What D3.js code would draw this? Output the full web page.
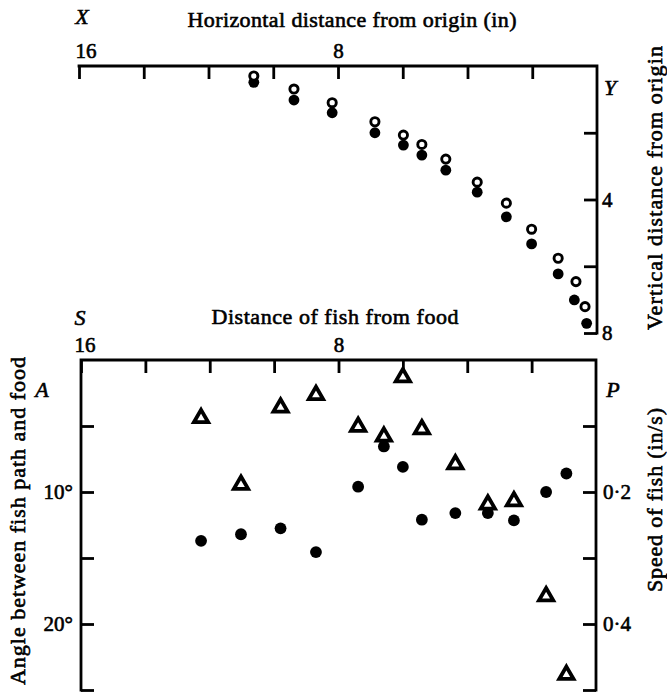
<!DOCTYPE html>
<html>
<head>
<meta charset="utf-8">
<script src="https://cdn.jsdelivr.net/npm/d3@7"></script>
<style>
  html, body { margin: 0; padding: 0; background: #fff; }
  svg { display: block; font-family: "Liberation Serif", Tinos, "Times New Roman", Times, serif; }
  svg text { stroke: #000; stroke-width: 0.6px; paint-order: stroke; }
</style>
</head>
<body>
<svg id="chart" width="667" height="692"></svg>
<script>
// Upper panel: positions (in) of food (open) and fish (filled) relative to origin
const foodX = [10.6, 9.36, 8.18, 6.86, 5.98, 5.41, 4.67, 3.70, 2.80, 2.02, 1.20, 0.65, 0.37];
const foodY = [0.30, 0.69, 1.10, 1.67, 2.07, 2.35, 2.79, 3.48, 4.11, 4.89, 5.76, 6.46, 7.21];
const fishX = [10.6, 9.36, 8.18, 6.86, 5.98, 5.41, 4.67, 3.70, 2.80, 2.02, 1.20, 0.70, 0.32];
const fishY = [0.49, 1.02, 1.40, 2.00, 2.37, 2.67, 3.12, 3.78, 4.52, 5.33, 6.23, 7.01, 7.71];

// Lower panel: distance of fish from food, angle (deg, filled) and speed (in/s, triangles)
const distance = [12.27, 11.03, 9.80, 8.70, 7.39, 6.59, 6.00, 5.41, 4.37, 3.36, 2.55, 1.55, 0.92];
const angle    = [13.7, 13.2, 12.75, 14.55, 9.6, 6.55, 8.1, 12.1, 11.6, 11.6, 12.15, 10.0, 8.6];
const speed    = [0.088, 0.189, 0.072, 0.053, 0.101, 0.116, 0.026, 0.105, 0.158, 0.219, 0.214, 0.358, 0.477];

// Tick values and labelled ticks
const xTicks = [16, 14, 12, 10, 8, 6, 4, 2];
const xTickLabels = [16, 8];
const yTicks = [2, 4, 6, 8];
const yTickLabels = [4, 8];
const angleTicks = [5, 10, 15, 20, 25];
const angleTickLabels = [10, 20];
const speedTicks = [0.1, 0.2, 0.3, 0.4, 0.5];
const speedTickLabels = [0.2, 0.4];

const svg = d3.select("#chart");
const INK = "#000";
const AXIS_W = 2.8;
const TICK = 13;
const SERIF = "'Liberation Serif', Tinos, 'Times New Roman', Times, serif";

// ---------- upper panel ----------
const xTop = d3.scaleLinear().domain([16, 0]).range([79, 597]);
const yTop = d3.scaleLinear().domain([0, 8]).range([66, 333]);

const upper = svg.append("g");

function styleAxis(g) {
  g.attr("font-family", null).attr("font-size", null);
  g.select(".domain").remove();
  g.selectAll(".tick line").attr("stroke", INK).attr("stroke-width", AXIS_W);
  g.selectAll(".tick text").attr("fill", INK).style("font-size", "21px")
    .style("font-family", SERIF);
}

upper.append("g")
  .attr("transform", `translate(0,${yTop(0)})`)
  .call(d3.axisTop(xTop).tickValues(xTicks).tickSize(-TICK).tickPadding(8)
    .tickFormat(d => xTickLabels.includes(d) ? d : ""))
  .call(styleAxis)
  .call(g => g.selectAll(".tick text").filter(d => d === 16).attr("text-anchor", "start").attr("x", -4));

upper.append("g")
  .attr("transform", `translate(${xTop(0)},0)`)
  .call(d3.axisRight(yTop).tickValues(yTicks).tickSize(-TICK).tickPadding(5)
    .tickFormat(d => yTickLabels.includes(d) ? d : ""))
  .call(styleAxis);

// frame lines (top and right)
upper.append("path")
  .attr("d", `M${xTop(16)},${yTop(0)}H${xTop(0)}V${yTop(8)}`)
  .attr("fill", "none").attr("stroke", INK).attr("stroke-width", AXIS_W)
  .attr("stroke-linecap", "square");

upper.append("g").selectAll("circle").data(fishX).join("circle")
  .attr("cx", (d, i) => xTop(d)).attr("cy", (d, i) => yTop(fishY[i]))
  .attr("r", 5.4).attr("fill", INK);

upper.append("g").selectAll("circle").data(foodX).join("circle")
  .attr("cx", (d, i) => xTop(d)).attr("cy", (d, i) => yTop(foodY[i]))
  .attr("r", 4.1).attr("fill", "#fff").attr("stroke", INK).attr("stroke-width", 2.9);

// ---------- lower panel ----------
const xBot = d3.scaleLinear().domain([16, 0]).range([81, 596]);
const yAngle = d3.scaleLinear().domain([0, 25]).range([360, 690]);
const ySpeed = d3.scaleLinear().domain([0, 0.5]).range([360, 690]);

const lower = svg.append("g");

lower.append("g")
  .attr("transform", `translate(0,${yAngle(0)})`)
  .call(d3.axisTop(xBot).tickValues(xTicks).tickSize(-TICK).tickPadding(8)
    .tickFormat(d => xTickLabels.includes(d) ? d : ""))
  .call(styleAxis)
  .call(g => g.selectAll(".tick text").filter(d => d === 16).attr("text-anchor", "start").attr("x", -7));

lower.append("g")
  .attr("transform", `translate(${xBot(16)},0)`)
  .call(d3.axisLeft(yAngle).tickValues(angleTicks).tickSize(-TICK).tickPadding(8)
    .tickFormat(d => angleTickLabels.includes(d) ? d + "°" : ""))
  .call(styleAxis);

lower.append("g")
  .attr("transform", `translate(${xBot(0)},0)`)
  .call(d3.axisRight(ySpeed).tickValues(speedTicks).tickSize(-TICK).tickPadding(7)
    .tickFormat(d => speedTickLabels.includes(d) ? d3.format(".1f")(d).replace(".", "·") : ""))
  .call(styleAxis);

lower.append("path")
  .attr("d", `M${xBot(16)},${yAngle(25)}V${yAngle(0)}H${xBot(0)}V${yAngle(25)}`)
  .attr("fill", "none").attr("stroke", INK).attr("stroke-width", AXIS_W)
  .attr("stroke-linecap", "square");

lower.append("g").selectAll("circle").data(distance).join("circle")
  .attr("cx", d => xBot(d)).attr("cy", (d, i) => yAngle(angle[i]))
  .attr("r", 5.9).attr("fill", INK);

const tri = d3.symbol(d3.symbolTriangle, 88);
lower.append("g").selectAll("path").data(distance).join("path")
  .attr("d", tri)
  .attr("transform", (d, i) => `translate(${xBot(d)},${ySpeed(speed[i])})`)
  .attr("fill", "#fff").attr("stroke", INK).attr("stroke-width", 3.8)
  .attr("stroke-linejoin", "miter");

// ---------- titles and axis letters ----------
function label(x, y, text, opts = {}) {
  const t = svg.append("text")
    .attr("x", x).attr("y", y)
    .attr("fill", INK)
    .attr("text-anchor", opts.anchor || "middle")
    .style("font-size", (opts.size || 21) + "px")
    .style("font-style", opts.italic ? "italic" : "normal")
    .text(text);
  if (opts.length) t.attr("textLength", opts.length).attr("lengthAdjust", "spacing");
  if (opts.rotate) t.attr("transform", `rotate(${opts.rotate},${x},${y})`);
  return t;
}

label(82, 24, "X", { italic: true, size: 22 });
label(352, 27, "Horizontal distance from origin (in)", { length: 329, size: 22 });
label(610, 95, "Y", { italic: true, size: 22 });
label(662, 188, "Vertical distance from origin", { rotate: -90, length: 284, size: 22 });

label(80, 325, "S", { italic: true, size: 22 });
label(335, 324, "Distance of fish from food", { length: 247, size: 22 });
label(42, 397, "A", { italic: true, size: 22 });
label(613, 397, "P", { italic: true, size: 22 });
label(25, 521, "Angle between fish path and food", { rotate: -90, length: 328, size: 22 });
label(662, 500, "Speed of fish (in/s)", { rotate: -90, length: 184, size: 22 });
</script>
</body>
</html>
